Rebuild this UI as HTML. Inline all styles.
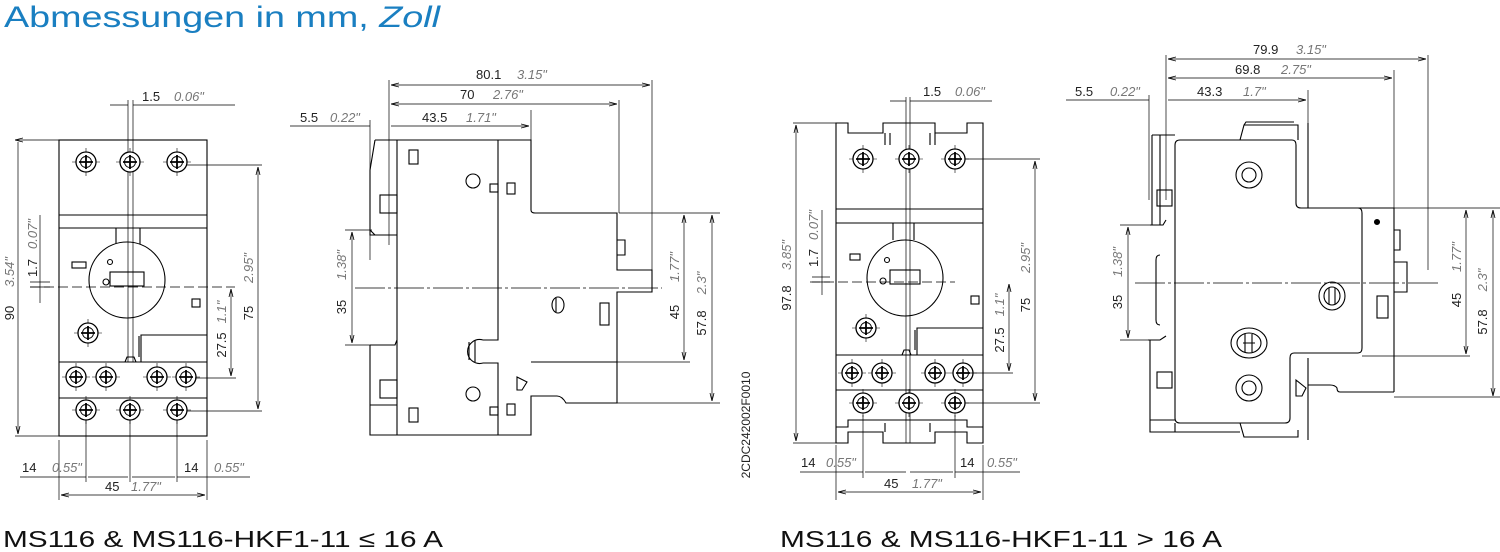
<!DOCTYPE html>
<html><head><meta charset="utf-8"><style>
html,body{margin:0;padding:0;background:#fff;}
svg{display:block;}
.t{font-family:"Liberation Sans",sans-serif;font-size:13px;fill:#222;}
.i{font-family:"Liberation Sans",sans-serif;font-size:13px;fill:#777;font-style:italic;}
</style></head><body>
<svg width="1500" height="552" viewBox="0 0 1500 552" xmlns="http://www.w3.org/2000/svg">
<defs>
<marker id="a" markerWidth="8" markerHeight="6" refX="8" refY="3" orient="auto-start-reverse" markerUnits="userSpaceOnUse"><path d="M0,1 L8,3 L0,5" fill="none" stroke="#000" stroke-width="0.8"/></marker>
<g id="scr"><circle r="10" fill="#fff" stroke="#000" stroke-width="1.3"/><circle r="5.5" fill="none" stroke="#000" stroke-width="0.9"/><path d="M-7,0H7M0,-7V7" stroke="#000" stroke-width="1.8"/><path d="M-14,0H-10M10,0H14M0,-14V-10M0,10V14" stroke="#000" stroke-width="0.6"/></g>
</defs>
<text x="4" y="27" textLength="436" lengthAdjust="spacingAndGlyphs" style="font-family:'Liberation Sans',sans-serif;font-size:30px;fill:#1a7fc1">Abmessungen in mm, <tspan font-style="italic">Zoll</tspan></text>
<text x="3" y="547" textLength="440" lengthAdjust="spacingAndGlyphs" style="font-family:'Liberation Sans',sans-serif;font-size:23px;fill:#111">MS116 &amp; MS116-HKF1-11 ≤ 16 A</text>
<text x="780" y="547" textLength="442" lengthAdjust="spacingAndGlyphs" style="font-family:'Liberation Sans',sans-serif;font-size:23px;fill:#111">MS116 &amp; MS116-HKF1-11 &gt; 16 A</text>
<text transform="translate(750,425) rotate(-90)" text-anchor="middle" class="t" style="font-size:12px">2CDC242002F0010</text>

<g fill="none" stroke="#000" stroke-width="1.1">
<rect x="59" y="140" width="148" height="296"/>
<path d="M59,215H207M59,228H207M59,362H207M59,398H207"/>
<path d="M116,228V245M140,228V245"/>
<circle cx="127" cy="280" r="38" fill="#fff"/>
<rect x="110" y="272" width="34" height="14"/>
<rect x="72" y="262" width="14" height="6"/>
<circle cx="110" cy="262" r="2.5"/><circle cx="106" cy="282" r="3"/>
<rect x="192" y="299" width="8" height="8"/>
<path d="M141,362V335H207"/><path d="M139,336V357"/>
<path d="M125,362 l2,-5 h7 l2,5"/>
<g stroke-width="0.7">
<path d="M30,287H235" stroke-dasharray="10,4"/>
<path d="M128,100V362M133,100V362" />
</g>
</g>
<use href="#scr" x="86" y="162"/><use href="#scr" x="130" y="162"/><use href="#scr" x="177" y="162"/>
<use href="#scr" x="88" y="333"/>
<use href="#scr" x="76" y="377"/><use href="#scr" x="106" y="377"/><use href="#scr" x="157" y="377"/><use href="#scr" x="186" y="377"/>
<use href="#scr" x="86" y="410"/><use href="#scr" x="130" y="410"/><use href="#scr" x="177" y="410"/>
<g fill="none" stroke="#000" stroke-width="0.7">
<path d="M15,140H59M15,436H59M18,142V434" marker-start="url(#a)" marker-end="url(#a)"/>
<path d="M40,215V303M30,282H50M30,287H50"/>
<path d="M187,165H262M187,411H262"/>
<path d="M258,167V409" marker-start="url(#a)" marker-end="url(#a)"/>
<path d="M231,289V376" marker-start="url(#a)" marker-end="url(#a)"/><path d="M195,378H236"/>
<path d="M110,105H128M145,105H235M133,105H150"/>
<path d="M59,440V500M207,440V500M86,420V482M177,420V482M130,420V482"/>
<path d="M20,477H86M88,477H128M132,477H175M177,477H250"/>
<path d="M61,495H205" marker-start="url(#a)" marker-end="url(#a)"/>
</g>
<text class="t" x="142" y="101">1.5</text><text class="i" x="174" y="101">0.06"</text>
<text class="t" transform="translate(14,313) rotate(-90)" text-anchor="middle">90</text>
<text class="i" transform="translate(14,272) rotate(-90)" text-anchor="middle">3.54"</text>
<text class="t" transform="translate(37,268) rotate(-90)" text-anchor="middle">1.7</text>
<text class="i" transform="translate(37,234) rotate(-90)" text-anchor="middle">0.07"</text>
<text class="t" transform="translate(253,313) rotate(-90)" text-anchor="middle">75</text>
<text class="i" transform="translate(253,268) rotate(-90)" text-anchor="middle">2.95"</text>
<text class="t" transform="translate(226,345) rotate(-90)" text-anchor="middle">27.5</text>
<text class="i" transform="translate(226,312) rotate(-90)" text-anchor="middle">1.1"</text>
<text class="t" x="22" y="472">14</text><text class="i" x="52" y="472">0.55"</text>
<text class="t" x="184" y="472">14</text><text class="i" x="214" y="472">0.55"</text>
<text class="t" x="105" y="491">45</text><text class="i" x="131" y="491">1.77"</text>

<g fill="none" stroke="#000" stroke-width="1.1">
<path d="M397,140H531V210Q531,213 535,213H617V270H652V292H617V362H531"/>
<path d="M531,362H617V403H566Q562,396 557,396H531V435H397V140"/>
<path d="M498,140V340H483M483,363H498V435"/>
<path d="M375,140H397M375,140L370,170V235H397M370,230L375,235"/>
<path d="M370,345H395L397,340M370,345V435H397M370,405H397"/>
<rect x="380" y="195" width="17" height="18"/><rect x="380" y="380" width="17" height="18"/>
<rect x="409" y="150" width="9" height="14"/><rect x="409" y="408" width="9" height="14"/>
<rect x="490" y="184" width="8" height="8"/><rect x="507" y="183" width="8" height="11"/>
<rect x="490" y="407" width="8" height="8"/><rect x="507" y="404" width="8" height="11"/>
<circle cx="473" cy="181" r="7"/><circle cx="473" cy="394" r="7"/>
<path d="M483,340A12,12 0 1,0 483,363" /><path d="M469,342V360M475,340V362"/>
<ellipse cx="558" cy="305" rx="6" ry="8"/><path d="M556,298V312"/>
<rect x="600" y="303" width="9" height="22"/>
<path d="M517,377l10,5l-5,8h-5z"/>
<path d="M617,240h8v15h-8"/>
</g>
<g fill="none" stroke="#000" stroke-width="0.7">
<path d="M355,288H662" stroke-dasharray="30,3,3,3"/>
<path d="M389,80V245M370,120V260M531,110V140M619,100V213M652,80V270"/>
<path d="M391,85H650" marker-start="url(#a)" marker-end="url(#a)"/>
<path d="M391,104H617" marker-start="url(#a)" marker-end="url(#a)"/>
<path d="M290,126H370M391,126H529" marker-end="url(#a)"/>
<path d="M352,232V343" marker-start="url(#a)" marker-end="url(#a)"/>
<path d="M345,230H372M345,345H372"/>
<path d="M619,213H720M531,362H690M617,403H720"/>
<path d="M684,215V360" marker-start="url(#a)" marker-end="url(#a)"/>
<path d="M712,215V401" marker-start="url(#a)" marker-end="url(#a)"/>
</g>
<text class="t" x="476" y="79">80.1</text><text class="i" x="517" y="79">3.15"</text>
<text class="t" x="460" y="99">70</text><text class="i" x="493" y="99">2.76"</text>
<text class="t" x="300" y="122">5.5</text><text class="i" x="330" y="122">0.22"</text>
<text class="t" x="422" y="122">43.5</text><text class="i" x="466" y="122">1.71"</text>
<text class="t" transform="translate(346,307) rotate(-90)" text-anchor="middle">35</text>
<text class="i" transform="translate(346,265) rotate(-90)" text-anchor="middle">1.38"</text>
<text class="t" transform="translate(679,312) rotate(-90)" text-anchor="middle">45</text>
<text class="i" transform="translate(679,267) rotate(-90)" text-anchor="middle">1.77"</text>
<text class="t" transform="translate(706,323) rotate(-90)" text-anchor="middle">57.8</text>
<text class="i" transform="translate(706,283) rotate(-90)" text-anchor="middle">2.3"</text>

<g fill="none" stroke="#000" stroke-width="1.1">
<path d="M836,123H848V133H883V123H935V133H967V123H983V443H967V432H935V443H883V432H848V443H836Z"/>
<path d="M836,209H983M836,223H983M836,355H983M836,390H983"/>
<path d="M885,133V145M890,133V145M930,133V145M935,133V145"/>
<path d="M885,423V432M930,423V432M836,427H848V420H967V427H983"/>
<path d="M893,223V240M914,223V240"/>
<circle cx="905" cy="278" r="38" fill="#fff"/>
<rect x="890" y="270" width="30" height="14"/>
<circle cx="887" cy="260" r="2.5"/><circle cx="883" cy="281" r="3"/>
<rect x="850" y="254" width="10" height="6"/>
<rect x="971" y="296" width="8" height="8"/>
<path d="M917,355V328H983"/><path d="M915,330V350"/>
<path d="M902,355l2,-5h5l2,5"/>
</g>
<g fill="none" stroke="#000" stroke-width="0.7">
<path d="M810,282H955" stroke-dasharray="10,4"/>
<path d="M906,97V443M910,97V443"/>
</g>
<use href="#scr" x="863" y="159"/><use href="#scr" x="909" y="159"/><use href="#scr" x="955" y="159"/>
<use href="#scr" x="866" y="328"/>
<use href="#scr" x="852" y="373"/><use href="#scr" x="882" y="373"/><use href="#scr" x="935" y="373"/><use href="#scr" x="963" y="373"/>
<use href="#scr" x="863" y="403"/><use href="#scr" x="909" y="403"/><use href="#scr" x="955" y="403"/>
<g fill="none" stroke="#000" stroke-width="0.7">
<path d="M793,123H836M793,443H836"/>
<path d="M796,125V441" marker-start="url(#a)" marker-end="url(#a)"/>
<path d="M822,210V295M812,277H830M812,282H830"/>
<path d="M965,159H1040M965,403H1040"/>
<path d="M1035,161V401" marker-start="url(#a)" marker-end="url(#a)"/>
<path d="M1009,284V371" marker-start="url(#a)" marker-end="url(#a)"/><path d="M970,373H1013"/>
<path d="M890,101H906M910,101H992"/>
<path d="M836,445V500M983,445V500M863,415V478M955,415V478"/>
<path d="M800,472H863M865,472H906M910,472H953M955,472H1020"/>
<path d="M838,492H981" marker-start="url(#a)" marker-end="url(#a)"/>
</g>
<text class="t" x="923" y="96">1.5</text><text class="i" x="955" y="96">0.06"</text>
<text class="t" transform="translate(791,298) rotate(-90)" text-anchor="middle">97.8</text>
<text class="i" transform="translate(791,255) rotate(-90)" text-anchor="middle">3.85"</text>
<text class="t" transform="translate(818,258) rotate(-90)" text-anchor="middle">1.7</text>
<text class="i" transform="translate(818,225) rotate(-90)" text-anchor="middle">0.07"</text>
<text class="t" transform="translate(1030,305) rotate(-90)" text-anchor="middle">75</text>
<text class="i" transform="translate(1030,258) rotate(-90)" text-anchor="middle">2.95"</text>
<text class="t" transform="translate(1004,340) rotate(-90)" text-anchor="middle">27.5</text>
<text class="i" transform="translate(1004,305) rotate(-90)" text-anchor="middle">1.1"</text>
<text class="t" x="801" y="467">14</text><text class="i" x="826" y="467">0.55"</text>
<text class="t" x="960" y="467">14</text><text class="i" x="987" y="467">0.55"</text>
<text class="t" x="884" y="488">45</text><text class="i" x="912" y="488">1.77"</text>

<g fill="none" stroke="#000" stroke-width="1.1">
<path d="M1180,140H1292Q1296,140 1296,145V203Q1296,208 1301,208H1358Q1362,208 1362,213V348Q1362,353 1358,353H1294Q1290,353 1290,358V418Q1290,423 1285,423H1180Q1175,423 1175,418V145Q1175,140 1180,140Z"/>
<path d="M1152,135H1175M1152,135V225H1160M1150,225H1163L1166,220M1160,135V225"/>
<path d="M1148,340H1160L1166,336M1150,340V432H1175M1150,420H1175"/>
<path d="M1160,255Q1156,255 1156,260V320Q1156,325 1160,325"/>
<rect x="1157" y="190" width="15" height="16"/><rect x="1157" y="372" width="15" height="16"/>
<path d="M1240,140L1244,125H1298V140M1244,125L1246,122H1294"/>
<path d="M1308,123V208H1394V392M1308,358V440"/>
<path d="M1394,392H1340Q1337,392 1337,388Q1335,385 1330,385H1308"/>
<path d="M1240,423L1244,437H1298V430M1175,423V432H1240"/>
<path d="M1394,230H1400V250H1394M1394,262H1407V292H1394M1407,262V292"/>
<circle cx="1249" cy="175" r="13"/><circle cx="1249" cy="175" r="7"/>
<circle cx="1249" cy="388" r="13"/><circle cx="1249" cy="388" r="7"/>
<ellipse cx="1249" cy="343" rx="18" ry="15"/><ellipse cx="1249" cy="343" rx="12" ry="10"/><path d="M1245,334V352M1252,334V352M1243,343H1255"/>
<ellipse cx="1332" cy="296" rx="13" ry="14"/><ellipse cx="1332" cy="296" rx="8" ry="9"/><path d="M1329,288V304M1335,288V304"/>
<rect x="1377" y="296" width="11" height="22"/>
<circle cx="1377" cy="222" r="2.5" fill="#000"/>
<path d="M1296,380l10,8l-4,8h-6z"/>
</g>
<g fill="none" stroke="#000" stroke-width="0.7">
<path d="M1135,283H1440" stroke-dasharray="30,3,3,3"/>
<path d="M1166,55V200M1149,95V200M1308,90V123M1394,70V208M1428,55V270"/>
<path d="M1168,59H1426" marker-start="url(#a)" marker-end="url(#a)"/>
<path d="M1168,78H1392" marker-start="url(#a)" marker-end="url(#a)"/>
<path d="M1066,100H1149M1168,100H1306" marker-end="url(#a)"/>
<path d="M1128,227V338" marker-start="url(#a)" marker-end="url(#a)"/>
<path d="M1120,225H1152M1120,340H1152"/>
<path d="M1394,208H1500M1362,356H1470M1394,397H1500"/>
<path d="M1466,210V354" marker-start="url(#a)" marker-end="url(#a)"/>
<path d="M1493,210V396" marker-start="url(#a)" marker-end="url(#a)"/>
</g>
<text class="t" x="1253" y="54">79.9</text><text class="i" x="1296" y="54">3.15"</text>
<text class="t" x="1235" y="74">69.8</text><text class="i" x="1281" y="74">2.75"</text>
<text class="t" x="1075" y="96">5.5</text><text class="i" x="1110" y="96">0.22"</text>
<text class="t" x="1197" y="96">43.3</text><text class="i" x="1243" y="96">1.7"</text>
<text class="t" transform="translate(1122,302) rotate(-90)" text-anchor="middle">35</text>
<text class="i" transform="translate(1122,262) rotate(-90)" text-anchor="middle">1.38"</text>
<text class="t" transform="translate(1461,300) rotate(-90)" text-anchor="middle">45</text>
<text class="i" transform="translate(1461,257) rotate(-90)" text-anchor="middle">1.77"</text>
<text class="t" transform="translate(1487,322) rotate(-90)" text-anchor="middle">57.8</text>
<text class="i" transform="translate(1487,280) rotate(-90)" text-anchor="middle">2.3"</text>
</svg>
</body></html>
